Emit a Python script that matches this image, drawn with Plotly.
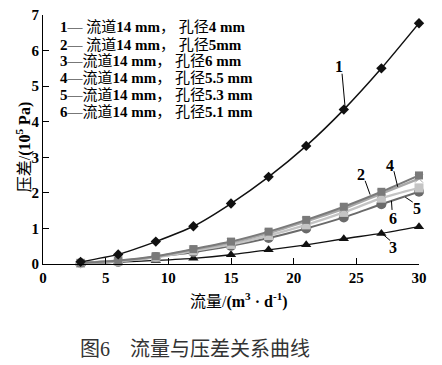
import plotly.graph_objects as go

flow = [3, 6, 9, 12, 15, 18, 21, 24, 27, 30]
s1 = [0.06, 0.27, 0.63, 1.06, 1.70, 2.45, 3.32, 4.34, 5.50, 6.77]
s2 = [0.03, 0.09, 0.20, 0.40, 0.60, 0.87, 1.20, 1.55, 1.98, 2.40]
s3 = [0.01, 0.05, 0.10, 0.16, 0.26, 0.40, 0.54, 0.71, 0.86, 1.05]
s4 = [0.03, 0.10, 0.22, 0.42, 0.63, 0.91, 1.24, 1.61, 2.03, 2.49]
s5 = [0.02, 0.08, 0.19, 0.37, 0.55, 0.80, 1.10, 1.45, 1.85, 2.14]
s6 = [0.02, 0.06, 0.20, 0.33, 0.51, 0.73, 1.00, 1.31, 1.68, 2.03]

legend_lines = [
    "<b>1</b>— 流道<b>14 mm</b>， 孔径<b>4 mm</b>",
    "<b>2</b>— 流道<b>14 mm</b>， 孔径<b>5mm</b>",
    "<b>3</b>—流道<b>14 mm</b>， 孔径<b>6 mm</b>",
    "<b>4</b>—流道<b>14 mm</b>， 孔径<b>5.5 mm</b>",
    "<b>5</b>—流道<b>14 mm</b>， 孔径<b>5.3 mm</b>",
    "<b>6</b>—流道<b>14 mm</b>， 孔径<b>5.1 mm</b>",
]
legend_y = [6.66, 6.17, 5.71, 5.22, 4.76, 4.27]

FONT = "Liberation Serif, Noto Sans CJK SC, serif"

fig = go.Figure()

def add(y, color, symbol, size, lw, mcolor=None):
    fig.add_trace(go.Scatter(
        x=flow, y=y, mode="lines+markers",
        line=dict(color=color, width=lw, shape="spline", smoothing=0.6),
        marker=dict(symbol=symbol, size=size, color=mcolor or color,
                    line=dict(width=0)),
        showlegend=False, cliponaxis=False))

add(s3, "#111111", "triangle-up", 9, 1.3)
add(s6, "#6a6a6a", "circle", 10, 2)
add(s5, "#c4c4c4", "square", 9, 2.4)
add(s2, "#a8a8a8", "x-thin-open", 8, 2.4)
add(s4, "#7a7a7a", "square", 8, 2)
add(s1, "#111111", "diamond", 8, 1.5)

# leader lines (label, label pos, line start, line end)
leaders = [
    ("1", (23.6, 5.55), (23.86, 5.35), (24.1, 4.42)),
    ("2", (25.4, 2.52), (25.7, 2.34), (26.1, 1.95)),
    ("4", (27.7, 2.78), (28.0, 2.61), (28.3, 2.17)),
    ("5", (29.85, 1.55), (29.5, 1.74), (28.9, 1.88)),
    ("6", (27.9, 1.28), (27.85, 1.52), (27.8, 1.78)),
    ("3", (27.9, 0.46), (27.7, 0.66), (27.1, 0.84)),
]
for lab, (lx, ly), (x0, y0), (x1, y1) in leaders:
    fig.add_shape(type="line", x0=x0, y0=y0, x1=x1, y1=y1,
                  line=dict(color="black", width=1))
    fig.add_annotation(x=lx, y=ly, text="<b>%s</b>" % lab, showarrow=False,
                       font=dict(family=FONT, size=16, color="black"))

for t, yy in zip(legend_lines, legend_y):
    fig.add_annotation(x=1.2, y=yy, text=t, showarrow=False, xanchor="left",
                       font=dict(family=FONT, size=15, color="black"))

fig.add_annotation(xref="paper", yref="paper", x=-0.083, y=0.47,
                   text="压差/<b>(10<sup>5</sup> Pa)</b>", textangle=-90,
                   showarrow=False, font=dict(family=FONT, size=16, color="black"))
fig.add_annotation(xref="paper", yref="paper", x=0.52, y=-0.147,
                   text="流量/<b>(m<sup>3</sup> · d<sup>-1</sup>)</b>",
                   showarrow=False, yanchor="middle",
                   font=dict(family=FONT, size=16, color="black"))
fig.add_annotation(xref="paper", yref="paper", x=0.405, y=-0.342,
                   text="图6　流量与压差关系曲线",
                   showarrow=False, yanchor="middle",
                   font=dict(family=FONT, size=20, color="#333333"))

axis_common = dict(showgrid=False, zeroline=False, showline=True,
                   linecolor="black", linewidth=1.2, ticks="inside",
                   ticklen=6, tickcolor="black", tickwidth=1,
                   ticklabeloverflow="allow",
                   tickfont=dict(family=FONT, size=15, color="black"))
fig.update_xaxes(range=[0, 30], tickvals=[0, 5, 10, 15, 20, 25, 30],
                 ticktext=["<b>%d</b>" % v for v in [0, 5, 10, 15, 20, 25, 30]],
                 **axis_common)
fig.update_yaxes(range=[0, 7], tickvals=list(range(8)),
                 ticktext=["<b>%d</b>" % v for v in range(8)],
                 **axis_common)

fig.update_layout(width=442, height=365, margin=dict(l=43, r=23, t=7, b=101),
                  plot_bgcolor="white", paper_bgcolor="white")

fig.write_html("out.html", config={"displayModeBar": False},
               post_script="document.body.style.margin='0px';document.body.style.overflow='hidden';")
